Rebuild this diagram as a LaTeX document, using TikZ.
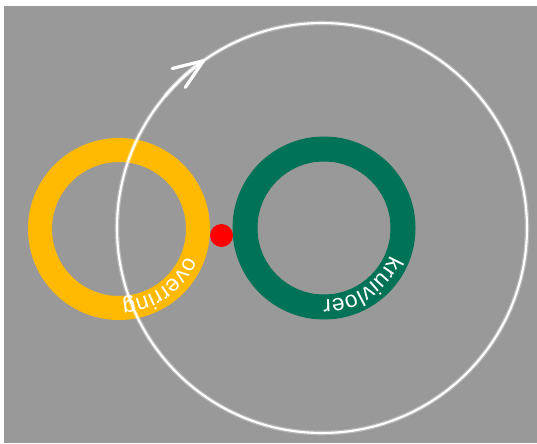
\documentclass[tikz,border=0pt]{standalone}
\usepackage{fontspec}
\newfontfamily\ringfont{Liberation Sans}
\definecolor{bgGray}{RGB}{153,153,153}
\definecolor{ringOrange}{RGB}{255,185,0}
\definecolor{ringGreen}{RGB}{0,114,86}
\definecolor{dotRed}{RGB}{255,0,0}
\usetikzlibrary{arrows.meta,decorations.text}

\begin{document}
\begin{tikzpicture}[x=0.02cm, y=0.02cm,
  ring/.style={even odd rule},
  glow/.style={draw=white, opacity=0.3, line width=2.6pt},
  orbit/.style={draw=white, line width=1.2pt},
  barb/.style={-{Straight Barb[length=0.6cm, width=0.46cm, line width=1.8pt, round]}},
  ringtext/.style={decorate, decoration={text along path, text align=left,
                   text={|\ringfont\fontsize{13}{14}\selectfont\color{white}|#1}}}
]
  \useasboundingbox (0,0) rectangle (537,443);
  \fill[white]  (0,0) rectangle (537,443);
  \fill[bgGray] (4,0) rectangle (537,437);

  \coordinate (ov)  at (119,214);
  \coordinate (kr)  at (324,215);
  \coordinate (orb) at (322,215);
  \coordinate (dot) at (221.5,207.5);

  % rings
  \fill[ringOrange, ring] (ov) circle (91)   (ov) circle (67);
  \fill[ringGreen,  ring] (kr) circle (91.5) (kr) circle (66.5);
  \fill[dotRed] (dot) circle (11.5);

  % ring labels
  \path[ringtext=overring]  (ov) ++(-22:72) arc (-22:-115:72);
  \path[ringtext=kruivloer] (kr) ++(-22:72) arc (-22:-115:72);

  % orbit with arrow
  \draw[glow] (orb) circle (205);
  \draw[orbit] (orb) circle (205);
  \draw[glow, barb]  (orb) ++(140:205) arc (140:124.9:205);
  \draw[orbit, barb] (orb) ++(140:205) arc (140:124.9:205);
\end{tikzpicture}
\end{document}
